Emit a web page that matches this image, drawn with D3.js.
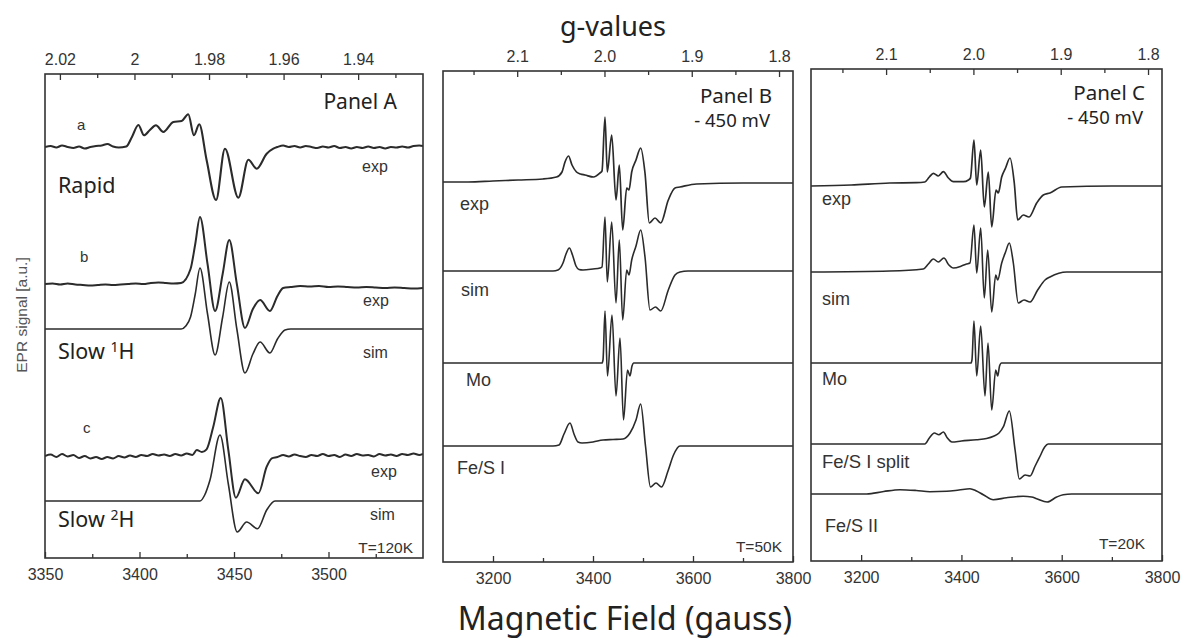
<!DOCTYPE html>
<html>
<head>
<meta charset="utf-8">
<script src="https://cdn.jsdelivr.net/npm/d3@7"></script>
<style>
  body { margin: 0; background: #fff; }
  .tick text { font-family: "Liberation Sans", Arial, sans-serif; font-size: 16px; fill: #333; }
  .tick line { stroke: #333; stroke-width: 1.3; }
</style>
</head>
<body>
<div id="chart"></div>
<script>
// ---------- Panel A (field 3350-3550 G) ----------
const rapidExp = [
  [3350,0],[3353,1],[3356,-0.5],[3359,1.5],[3362,0],[3365,-1],[3368,0.5],[3371,-1.5],[3374,0],[3377,1],
  [3380,1.5],[3383,3],[3386,0.5],[3389,-0.5],[3393,0.5],[3396,10],[3399.4,22],[3402.4,11.7],[3405.5,17],
  [3408.7,21.7],[3412.6,15],[3417.9,25],[3422.3,26],[3425.8,32.7],[3428.8,11.7],[3431.6,22.7],[3435.5,-13],
  [3440.5,-53],[3445.2,-1.7],[3452.3,-50.7],[3457.6,-12.7],[3462,-21.7],[3467.3,-6.7],[3470.8,-1.7],
  [3473,0],[3476,1.5],[3479,0],[3482,1],[3485,-0.5],[3488,1],[3491,0],[3494,-1],[3497,0.5],[3500,-0.5],
  [3503,1],[3506,-1],[3509,0],[3512,-1.5],[3515,0],[3518,-1],[3521,0.5],[3524,-1],[3527,0],[3530,-1.5],
  [3533,0],[3536,-0.5],[3539,0.5],[3542,-0.5],[3545,1],[3548,1.5],[3550,1]
];
const slow1HExp = [
  [3350,0],[3354,0.5],[3358,-0.5],[3362,0.5],[3366,-0.5],[3370,-1],[3374,-1.5],[3378,-1],[3382,-0.5],
  [3386,-1],[3390,-0.5],[3394,0],[3398,0.5],[3402,0],[3406,1],[3410,1.5],[3414,1],[3418,0.5],[3422,1],
  [3427,15],[3429.5,40],[3432,67],[3436,20],[3440,-27],[3444,10],[3447.5,44],[3451.5,0],[3455.8,-44],
  [3460,-25],[3463.8,-16],[3469,-27],[3473,-12],[3476,-4],[3480,-3],[3485,-2],[3490,-2.5],[3495,-2],
  [3500,-3],[3505,-2.5],[3510,-3],[3515,-3.5],[3520,-3],[3525,-3.5],[3530,-4],[3535,-3.5],[3540,-4],
  [3545,-4.5],[3550,-4]
];
const slow1HSim = [
  [3350,0],[3422,0],[3424.5,3],[3427,12],[3429.5,35],[3432,61],[3436,15],[3440,-26],[3444,12],[3447.5,47],
  [3451.5,0],[3455.8,-44],[3460,-25],[3463.8,-13],[3469,-24],[3473,-10],[3477,-1],[3480,0],[3550,0]
];
const slow2HExp = [
  [3350,0],[3353,1.5],[3356,-1],[3359,2],[3362,-0.5],[3365,1],[3368,-2],[3371,0],[3374,-2.5],[3377,-1],
  [3380,-3],[3383,-1],[3386,-2.5],[3389,0],[3392,-1.5],[3395,0.5],[3398,-1],[3401,1],[3404,0],[3407,2],
  [3410,0.5],[3413,1.5],[3416,0],[3419,2],[3422,0.5],[3425,2.5],[3428,1],[3430.3,6],[3433,4],[3435.5,6.7],
  [3439,29],[3443,58],[3447,6],[3451,-41.7],[3455.8,-23.3],[3462.9,-37.3],[3467.3,-10.7],[3470,-2.3],
  [3473,-1],[3476,1],[3479,-0.5],[3482,1.5],[3485,0],[3488,-1],[3491,1],[3494,0],[3497,2],[3500,0],
  [3503,1],[3506,-1],[3509,1.5],[3512,0],[3515,2],[3518,0.5],[3521,1],[3524,-0.5],[3527,2],[3530,0.5],
  [3533,1.5],[3536,0],[3539,2],[3542,1],[3545,2.5],[3548,1],[3550,2]
];
const slow2HSim = [
  [3350,0],[3432,0],[3434.5,6],[3437.3,21],[3442.6,66],[3447,17],[3451.7,-31],[3456.7,-21],[3462.5,-27.7],
  [3467.3,-9],[3471.7,0],[3550,0]
];

// ---------- Panel B (field 3100-3800 G) ----------
const panelBExp = [
  [3100,0],[3150,0],[3200,1],[3250,2],[3300,3],[3327,5],[3338,10],[3344,20],[3351,26],[3358,17],[3367,10],
  [3375,8],[3384,7],[3401,5],[3414,9],[3418,11],[3424,65],[3428.6,10],[3437.4,47],[3446,-18],[3452.6,17],
  [3459.4,-48],[3467.4,-6],[3472,-8],[3477.4,10],[3486,22],[3495.4,34],[3504,9],[3512.6,-41],[3524,-36],
  [3535.4,-41],[3550.6,-18],[3564,-6],[3574,-5],[3607,-2],[3700,-1],[3800,-1]
];
const panelBSim = [
  [3100,0],[3320,0],[3330,1],[3340,8],[3346,17],[3352.7,23],[3359,16],[3366,5],[3372,1.5],[3380,1],
  [3400,2],[3414,3],[3418,4],[3424,54],[3428.6,-11],[3437.4,49],[3446,-32],[3452.6,31],[3459.4,-49],
  [3467.4,1],[3472,-4],[3477.4,11],[3486,25],[3495.4,41],[3504,14],[3514,-39],[3525,-36],[3535.4,-40],
  [3550.6,-19],[3564,-4],[3574,-1],[3590,0],[3800,0]
];
const panelBMo = [
  [3100,0],[3418,0],[3420,3],[3424,52],[3429,-13],[3438,48],[3446,-33],[3454,25],[3461,-57],[3469,-7],
  [3474,-13],[3478,-3],[3481,0],[3800,0]
];
const panelBFeS1 = [
  [3100,0],[3320,0],[3332,1],[3342,12],[3354,23],[3362,12],[3370,4],[3378,3],[3400,4],[3420,6],[3440,6.5],
  [3460,7],[3474,13],[3486,26],[3495.3,42],[3505,0],[3515,-41],[3526,-37],[3537,-41],[3550,-25],[3561,-9],
  [3574,0],[3800,0]
];

// ---------- Panel C (field 3100-3800 G) ----------
const panelCExp = [
  [3100,0],[3180,1],[3257,3],[3310,3.3],[3327,4],[3336,9],[3344,12.7],[3354,10],[3364,14.3],[3374,8],
  [3384,4.3],[3404,4.3],[3414,6],[3418,8],[3425,46],[3430.5,1],[3438.4,36],[3445.6,-21],[3453.6,14],
  [3460.4,-41],[3469,-4],[3473.5,-7],[3480.3,9],[3488,18],[3496.9,28],[3505.4,3],[3512.2,-34],[3523.4,-29],
  [3534.8,-31],[3550.1,-17],[3563.3,-9],[3576.6,-7],[3600,-1],[3700,0],[3800,0]
];
const panelCSim = [
  [3100,0],[3257,1],[3324,3],[3334,8],[3344,13],[3354,10],[3365,14],[3375,7],[3384,4],[3400,6],[3410,8],
  [3417,9],[3425,47],[3430.5,-1],[3438.4,44],[3445.6,-26],[3452.4,22],[3460.4,-40],[3468.4,-3],[3472.3,-8],
  [3480.3,9],[3488,20],[3495.5,29],[3503.5,9],[3513.4,-31],[3524.8,-28],[3536.8,-30],[3552,-18],[3566.7,-8],
  [3576.6,-5],[3610,0],[3800,0]
];
const panelCMo = [
  [3100,0],[3419,0],[3421,3],[3425,42],[3430.5,-13],[3438.4,37],[3447,-33],[3453,20],[3460.4,-47],
  [3468.4,-7],[3472.3,-13],[3476,-3],[3480,0],[3800,0]
];
const panelCFeS1Split = [
  [3100,0],[3327,0],[3336,6],[3346,11],[3355,9.3],[3364,12],[3372,6],[3381,2],[3400,3],[3430,4.3],
  [3450,5.5],[3464,7.7],[3475,11],[3484,17.7],[3495.5,33],[3507,-6],[3515.5,-35],[3527,-31],[3537,-32],
  [3547,-22],[3557,-12],[3566,-3],[3573,0],[3800,0]
];
const panelCFeS2 = [
  [3100,0],[3211,0],[3245,2.5],[3277.5,4.3],[3310,3.5],[3337,2.3],[3370.6,2.7],[3395,4],[3417,5.3],
  [3430,3],[3443.6,-0.7],[3463.6,-5.7],[3490,-3.7],[3523,-2.3],[3540,-3],[3550,-4.7],[3571,-8],[3590,-3],
  [3603,-0.7],[3620,0],[3800,0]
];

// stacking offsets (a.u.) of each trace within its panel
const offsetsA = [411, 274, 229, 102, 57];
const offsetsB = [380, 291, 199, 116];
const offsetsC = [375, 289, 198, 117, 67];

// tick values
const fieldTicksA = [3350, 3400, 3450, 3500];
const fieldMinorA = [3375, 3425, 3475, 3525];
const gTicksA = [2.02, 2.00, 1.98, 1.96, 1.94];
const gMinorA = [2.01, 1.99, 1.97, 1.95, 1.93];
const fieldTicksBC = [3200, 3400, 3600, 3800];
const fieldMinorBC = [3300, 3500, 3700];
const gTicksBC = [2.1, 2.0, 1.9, 1.8];
const gMinorBC = [2.15, 2.05, 1.95, 1.85];

const W = 1184, H = 638;
const svg = d3.select("#chart").append("svg").attr("width", W).attr("height", H)
  .style("font-family", "'Noto Sans', 'Open Sans', sans-serif");

const panels = [
  {
    id: "A", left: 45, right: 423, top: 74, bottom: 558,
    field: [3350, 3550], g: [2.024, 1.9226],
    fTicks: fieldTicksA, fMinor: fieldMinorA, gTicks: gTicksA, gMinor: gMinorA,
    gFmt: d => d === 2 ? "2" : d.toFixed(2),
    traces: [rapidExp, slow1HExp, slow1HSim, slow2HExp, slow2HSim], offsets: offsetsA,
    widths: [2.1, 2.0, 1.6, 2.0, 1.6]
  },
  {
    id: "B", left: 443, right: 793, top: 71, bottom: 562,
    field: [3100, 3800], g: [2.185, 1.784],
    fTicks: fieldTicksBC, fMinor: fieldMinorBC, gTicks: gTicksBC, gMinor: gMinorBC,
    gFmt: d3.format(".1f"),
    traces: [panelBExp, panelBSim, panelBMo, panelBFeS1], offsets: offsetsB,
    widths: [1.7, 1.6, 1.6, 1.6]
  },
  {
    id: "C", left: 811, right: 1162, top: 69, bottom: 561,
    field: [3100, 3800], g: [2.186, 1.784],
    fTicks: fieldTicksBC, fMinor: fieldMinorBC, gTicks: gTicksBC, gMinor: gMinorBC,
    gFmt: d3.format(".1f"),
    traces: [panelCExp, panelCSim, panelCMo, panelCFeS1Split, panelCFeS2], offsets: offsetsC,
    widths: [1.7, 1.6, 1.6, 1.6, 1.6]
  }
];

panels.forEach(p => {
  const x = d3.scaleLinear().domain(p.field).range([p.left, p.right]);
  const gx = d3.scaleLinear().domain(p.g).range([p.left, p.right]);
  const y = d3.scaleLinear().domain([0, p.bottom - p.top]).range([p.bottom, p.top]);

  const clipId = "clip" + p.id;
  svg.append("clipPath").attr("id", clipId).append("rect")
    .attr("x", p.left).attr("y", p.top).attr("width", p.right - p.left).attr("height", p.bottom - p.top);

  const gp = svg.append("g").attr("clip-path", `url(#${clipId})`);
  p.traces.forEach((t, i) => {
    const line = d3.line()
      .x(d => x(d[0]))
      .y(d => y(p.offsets[i] + d[1]))
      .curve(d3.curveMonotoneX);
    gp.append("path").datum(t).attr("d", line)
      .attr("fill", "none").attr("stroke", "#2b2b2b")
      .attr("stroke-width", p.widths[i]).attr("stroke-linejoin", "round");
  });

  // bottom field axis (ticks pointing inward)
  svg.append("g").attr("transform", `translate(0,${p.bottom})`)
    .call(d3.axisBottom(x).tickValues(p.fTicks).tickSize(-6).tickPadding(11).tickFormat(d3.format("d")))
    .call(a => a.select(".domain").remove());
  svg.append("g").attr("transform", `translate(0,${p.bottom})`)
    .call(d3.axisBottom(x).tickValues(p.fMinor).tickSize(-4).tickFormat(""))
    .call(a => a.select(".domain").remove());

  // top g-value axis
  svg.append("g").attr("transform", `translate(0,${p.top})`)
    .call(d3.axisTop(gx).tickValues(p.gTicks).tickSize(-6).tickPadding(9).tickFormat(p.gFmt))
    .call(a => a.select(".domain").remove());
  svg.append("g").attr("transform", `translate(0,${p.top})`)
    .call(d3.axisTop(gx).tickValues(p.gMinor).tickSize(-4).tickFormat(""))
    .call(a => a.select(".domain").remove());

  svg.append("rect").attr("x", p.left).attr("y", p.top)
    .attr("width", p.right - p.left).attr("height", p.bottom - p.top)
    .attr("fill", "none").attr("stroke", "#333").attr("stroke-width", 1.6);
});

// annotations
const big = [
  ["Panel A", 397, 109, "end", 21], ["Rapid", 58, 193, "start", 21.5],
  ["Panel B", 772, 103, "end", 20.5], ["- 450 mV", 770, 127, "end", 18.5],
  ["Panel C", 1145, 100, "end", 20.5], ["- 450 mV", 1143, 124, "end", 18.5]
];
big.forEach(([t, xx, yy, anchor, fs]) => {
  svg.append("text").attr("x", xx).attr("y", yy).attr("text-anchor", anchor)
    .attr("font-size", fs).attr("fill", "#222").text(t);
});

// "Slow ¹H" / "Slow ²H" with a small raised digit
[["1", 359], ["2", 527]].forEach(([iso, yy]) => {
  const t = svg.append("text").attr("x", 58).attr("y", yy).attr("font-size", 21.5).attr("fill", "#222");
  t.append("tspan").text("Slow ");
  t.append("tspan").attr("font-size", 14).attr("dy", -7).text(iso);
  t.append("tspan").attr("dy", 7).text("H");
});

const small = [
  ["a", 77, 130, "start", 15], ["b", 80, 262, "start", 15], ["c", 83, 433, "start", 15],
  ["exp", 362, 172, "start", 16], ["exp", 363, 306, "start", 16], ["sim", 363, 358, "start", 16],
  ["exp", 371, 477, "start", 16], ["sim", 370, 520, "start", 16], ["T=120K", 413, 553, "end", 15.5],
  ["exp", 460, 210, "start", 18], ["sim", 461, 296, "start", 18], ["Mo", 466, 386, "start", 18],
  ["Fe/S I", 457, 474, "start", 18], ["T=50K", 782, 552, "end", 15.5],
  ["exp", 822, 205, "start", 18], ["sim", 822, 305, "start", 18], ["Mo", 822, 385, "start", 18],
  ["Fe/S I split", 822, 468, "start", 18.5], ["Fe/S II", 825, 532, "start", 18], ["T=20K", 1145, 549, "end", 15.5]
];
small.forEach(([t, xx, yy, anchor, fs]) => {
  svg.append("text").attr("x", xx).attr("y", yy).attr("text-anchor", anchor)
    .attr("font-family", "'Liberation Sans', Arial, sans-serif")
    .attr("font-size", fs).attr("fill", "#333").text(t);
});

svg.append("text").attr("x", 613).attr("y", 36).attr("text-anchor", "middle")
  .attr("font-size", 27).attr("fill", "#222").text("g-values");
svg.append("text").attr("x", 625).attr("y", 630).attr("text-anchor", "middle")
  .attr("font-size", 32).attr("fill", "#222").text("Magnetic Field (gauss)");
svg.append("text").attr("transform", "translate(27,315) rotate(-90)").attr("text-anchor", "middle")
  .attr("font-family", "'Liberation Sans', Arial, sans-serif")
  .attr("font-size", 15.5).attr("fill", "#555").text("EPR signal [a.u.]");
</script>
</body>
</html>
